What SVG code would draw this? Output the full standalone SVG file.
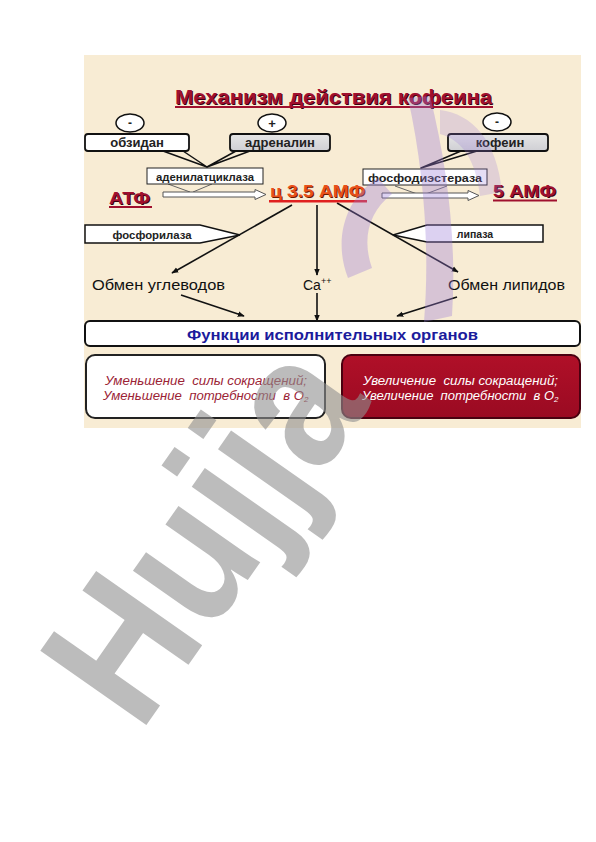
<svg xmlns="http://www.w3.org/2000/svg" width="596" height="842" viewBox="0 0 596 842">
<defs>
<style>
.box{fill:#fff;stroke:#111;stroke-width:1.8}
.gbox{fill:url(#gray);stroke:#111;stroke-width:1.8}
.lbl{font-family:"Liberation Sans",Arial,sans-serif;font-weight:bold;fill:#222;text-anchor:middle}
.reg{font-family:"Liberation Sans",Arial,sans-serif;font-size:14px;fill:#111}
.it{font-family:"Liberation Sans",Arial,sans-serif;font-style:italic;font-size:12px;white-space:pre}
.big{font-family:"Liberation Sans",Arial,sans-serif;font-weight:bold}
.ar{stroke:#111;stroke-width:1.6;fill:none;marker-end:url(#ah)}
.wedge{fill:#f8ecd4;stroke:#111;stroke-width:1.5;stroke-linejoin:round}
.hol{fill:#fff;stroke:#555;stroke-width:1}
</style>
<linearGradient id="gray" x1="0" y1="0" x2="0" y2="1"><stop offset="0" stop-color="#e6e6e6"/><stop offset="1" stop-color="#cfcfd4"/></linearGradient>
<linearGradient id="red" x1="0" y1="0" x2="0" y2="1"><stop offset="0" stop-color="#b01028"/><stop offset="1" stop-color="#9a0a22"/></linearGradient>
<marker id="ah" viewBox="0 0 10 10" refX="9" refY="5" markerWidth="7" markerHeight="7" orient="auto" markerUnits="userSpaceOnUse"><path d="M0,1 L10,5 L0,9 z" fill="#111"/></marker>
</defs>
<rect x="0" y="0" width="596" height="842" fill="#fff"/>
<rect x="84" y="55" width="497" height="373" fill="#f8ecd4"/>

<g id="title">
<text class="big" x="176" y="105" font-size="20" fill="#3a0010" textLength="317" lengthAdjust="spacingAndGlyphs">Механизм действия кофеина</text>
<text class="big" x="175" y="104" font-size="20" fill="#a0102e" textLength="317" lengthAdjust="spacingAndGlyphs">Механизм действия кофеина</text>
<rect x="175" y="106" width="318" height="2" fill="#a0102e"/>
</g>

<g id="signs">
<ellipse cx="130" cy="123" rx="14" ry="9" fill="#fff" stroke="#111" stroke-width="1.5"/>
<text class="lbl" x="130" y="127" font-size="12" font-weight="normal">-</text>
<ellipse cx="272" cy="123" rx="14" ry="9" fill="#fff" stroke="#111" stroke-width="1.5"/>
<text class="lbl" x="272" y="127.5" font-size="13" font-weight="normal">+</text>
<ellipse cx="497" cy="122" rx="14" ry="9" fill="#fff" stroke="#111" stroke-width="1.5"/>
<text class="lbl" x="497" y="126" font-size="12" font-weight="normal">-</text>
</g>

<g id="connectors">
<polygon class="wedge" points="163,151 183,151 207,167"/>
<polygon class="wedge" points="236,151 250,151 207,167"/>
<polygon class="wedge" points="461,151 477,151 421,168"/>
<path d="M168,184 L190,192 M212,184 L193,192" stroke="#666" stroke-width="1" fill="none"/>
<path d="M395,186 L420,195 M447,186 L423,195" stroke="#666" stroke-width="1" fill="none"/>
<path class="hol" d="M163,192 L255,192 L255,189.5 L266,194.5 L255,199.5 L255,197 L163,197 z"/>
<path class="hol" d="M382,193 L468,193 L468,190.5 L479,195.5 L468,200.5 L468,198 L382,198 z"/>
<line class="ar" x1="292" y1="205" x2="172" y2="273"/>
<line class="ar" x1="317" y1="205" x2="317" y2="275"/>
<line class="ar" x1="337" y1="203" x2="458" y2="272"/>
<line class="ar" x1="181" y1="295" x2="244" y2="316"/>
<line class="ar" x1="317" y1="293" x2="317" y2="321"/>
<line class="ar" x1="457" y1="297" x2="397" y2="316"/>
</g>

<g id="obzidan">
<rect class="box" x="85" y="134" width="104" height="17" rx="3"/>
<text class="lbl" x="137" y="147" font-size="13">обзидан</text>
</g>
<g id="adrenalin">
<rect class="gbox" x="230" y="134" width="100" height="17" rx="3"/>
<text class="lbl" x="280" y="147" font-size="13">адреналин</text>
</g>
<g id="kofein">
<rect class="gbox" x="448" y="134" width="100" height="17" rx="3"/>
<text class="lbl" x="500" y="147" font-size="13" fill="#30305a">кофеин</text>
</g>
<g id="adenilat">
<rect x="147" y="168" width="116" height="16" fill="#fff" stroke="#222" stroke-width="1"/>
<text class="lbl" x="205" y="180.5" font-size="10.5" textLength="98" lengthAdjust="spacingAndGlyphs">аденилатциклаза</text>
</g>
<g id="fosfodi">
<rect x="363" y="169" width="124" height="16" fill="#fff" stroke="#222" stroke-width="1"/>
<text class="lbl" x="425" y="181.5" font-size="11" textLength="114" lengthAdjust="spacingAndGlyphs">фосфодиэстераза</text>
</g>

<g id="atf">
<text class="big" x="110" y="205" font-size="17" fill="#3a0010" textLength="41" lengthAdjust="spacingAndGlyphs">АТФ</text>
<text class="big" x="109" y="204" font-size="17" fill="#a0102e" textLength="41" lengthAdjust="spacingAndGlyphs">АТФ</text>
<rect x="109" y="206" width="43" height="2" fill="#a0102e"/>
</g>
<g id="camp">
<text class="big" x="271" y="198" font-size="16" fill="#6a1a00" textLength="95" lengthAdjust="spacingAndGlyphs">ц 3.5 АМФ</text>
<text class="big" x="270" y="197" font-size="16" fill="#e8501a" textLength="95" lengthAdjust="spacingAndGlyphs">ц 3.5 АМФ</text>
<rect x="269" y="200" width="98" height="2.5" fill="#e02020"/>
</g>
<g id="amp5">
<text class="big" x="494" y="198" font-size="16" fill="#3a0010" textLength="63" lengthAdjust="spacingAndGlyphs">5 АМФ</text>
<text class="big" x="493" y="197" font-size="16" fill="#a0102e" textLength="63" lengthAdjust="spacingAndGlyphs">5 АМФ</text>
<rect x="493" y="199.5" width="64" height="2" fill="#a0102e"/>
</g>

<g id="fosforilaza">
<polygon points="85,225 200,225 240,235 200,243 85,243" fill="#fff" stroke="#111" stroke-width="1.5"/>
<text class="lbl" x="152" y="238.5" font-size="10.5" textLength="79" lengthAdjust="spacingAndGlyphs">фосфорилаза</text>
</g>
<g id="lipaza">
<polygon points="543,225 427,225 393,235 427,242 543,242" fill="#fff" stroke="#111" stroke-width="1.5"/>
<text class="lbl" x="475" y="238" font-size="10.5">липаза</text>
</g>

<g id="uglevody"><text class="reg" x="92" y="290" textLength="133" lengthAdjust="spacingAndGlyphs">Обмен углеводов</text></g>
<g id="ca"><text class="reg" x="303" y="290">Ca<tspan font-size="9" dy="-6">++</tspan></text></g>
<g id="lipidy"><text class="reg" x="448" y="290" textLength="117" lengthAdjust="spacingAndGlyphs">Обмен липидов</text></g>

<g id="funkcii">
<rect x="85" y="321" width="495" height="25" rx="5" fill="#fff" stroke="#111" stroke-width="2"/>
<text class="big" x="187" y="340" font-size="15" fill="#1b1b9c" textLength="291" lengthAdjust="spacingAndGlyphs">Функции исполнительных органов</text>
</g>
<g id="decrease">
<rect x="86" y="355" width="239" height="63" rx="9" fill="#fff" stroke="#222" stroke-width="2"/>
<text class="it" x="105" y="385" fill="#9b2335" textLength="202" lengthAdjust="spacingAndGlyphs">Уменьшение  силы сокращений;</text>
<text class="it" x="103" y="400" fill="#9b2335"><tspan textLength="201" lengthAdjust="spacingAndGlyphs">Уменьшение  потребности  в O</tspan><tspan font-size="8" dy="2">2</tspan></text>
</g>
<g id="increase">
<rect x="342" y="355" width="238" height="63" rx="9" fill="url(#red)" stroke="#4a0010" stroke-width="2"/>
<text class="it" x="363" y="385" fill="#fff" textLength="195" lengthAdjust="spacingAndGlyphs">Увеличение  силы сокращений;</text>
<text class="it" x="362" y="400" fill="#fff"><tspan textLength="192" lengthAdjust="spacingAndGlyphs">Увеличение  потребности  в O</tspan><tspan font-size="8" dy="2">2</tspan></text>
</g>

<g id="watermark">
<path d="M408,98 C424,170 430,250 424,322 L452,316 C457,240 447,165 430,96 z" fill="#9a7ad8" opacity="0.35"/>
<path d="M378,178 C345,198 333,240 348,278 L372,268 C362,240 368,212 392,194 z" fill="#9a7ad8" opacity="0.35"/>
<path d="M440,110 C472,114 497,140 502,192 L480,196 C476,160 462,140 440,134 z" fill="#9a7ad8" opacity="0.25"/>
<text transform="translate(140,734) rotate(-55) scale(0.88,1)" font-family="Liberation Sans,Arial,sans-serif" font-weight="bold" font-size="188" fill="#909090" opacity="0.6">Hujja</text>
</g>
</svg>
